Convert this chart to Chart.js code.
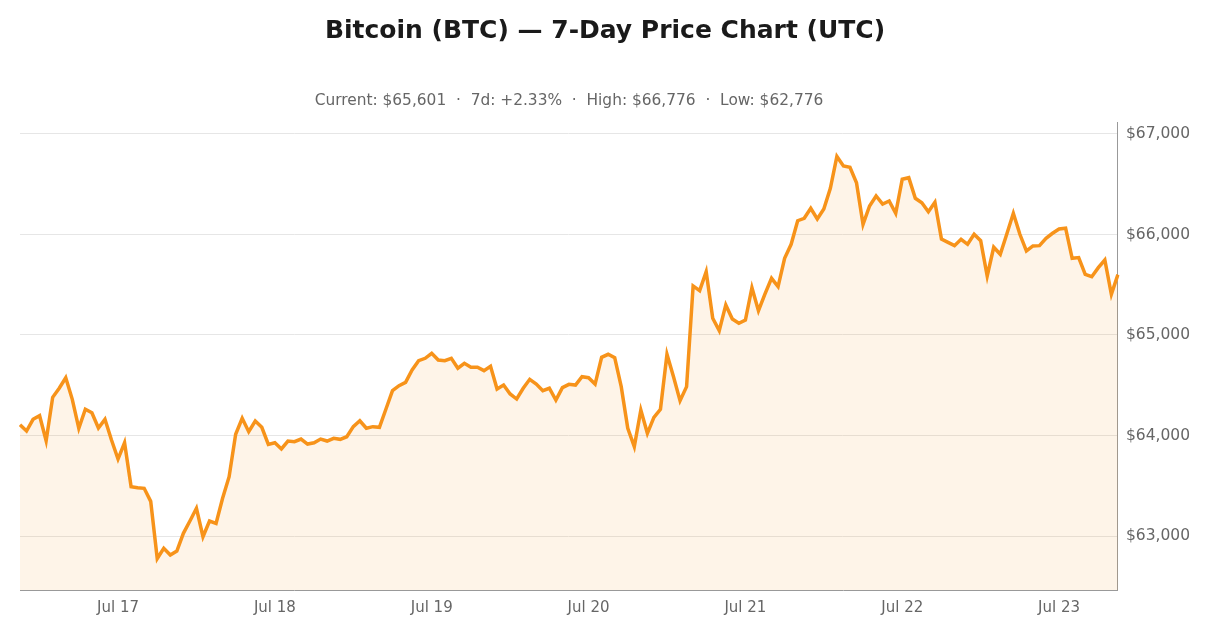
<!DOCTYPE html>
<html>
<head>
<meta charset="utf-8">
<title>Bitcoin 7-Day Price Chart</title>
<script src="https://cdn.jsdelivr.net/npm/chart.js@4"></script>
<style>
  html, body { margin: 0; padding: 0; background: #fff; }
  #wrap { width: 1210px; height: 636px; }
</style>
</head>
<body>
<div id="wrap"><canvas id="btcChart" width="1210" height="636"></canvas></div>
<script>
// hourly closes, Jul 16 09:00 -> Jul 23 09:00 UTC
const days = ['Jul 16', 'Jul 17', 'Jul 18', 'Jul 19', 'Jul 20', 'Jul 21', 'Jul 22', 'Jul 23'];
const startHour = 9;

const prices = [
  64107, 64045, 64161, 64197, 63948, 64380, 64470, 64575, 64360, 64072,
  64261, 64227, 64075, 64161, 63955, 63766, 63928, 63491, 63481, 63475,
  63345, 62776, 62878, 62811, 62851, 63027, 63149, 63276, 62993, 63149,
  63126, 63375, 63590, 64012, 64171, 64038, 64144, 64082, 63912, 63928,
  63866, 63945, 63938, 63965, 63915, 63928, 63965, 63945, 63972, 63962,
  63988, 64088, 64147, 64072, 64088, 64082, 64264, 64446, 64496, 64529,
  64652, 64744, 64768, 64818, 64751, 64744, 64768, 64669, 64718, 64679,
  64679, 64645, 64688, 64463, 64502, 64413, 64363, 64470, 64559, 64512,
  64446, 64470, 64353, 64476, 64509, 64502, 64585, 64575, 64512, 64778,
  64808, 64774, 64486, 64072, 63889, 64254, 64022, 64181, 64261, 64808,
  64585, 64346, 64486, 65488, 65441, 65630, 65166, 65043, 65299, 65159,
  65116, 65149, 65471, 65242, 65408, 65564, 65481, 65763, 65902, 66137,
  66161, 66261, 66154, 66254, 66460, 66776, 66682, 66669, 66515, 66101,
  66284, 66383, 66303, 66333, 66211, 66549, 66565, 66360, 66316, 66227,
  66320, 65955, 65922, 65889, 65952, 65902, 66002, 65938, 65587, 65873,
  65803, 66005, 66211, 66002, 65836, 65886, 65889, 65962, 66012, 66055,
  66062, 65763, 65770, 65604, 65580, 65670, 65746, 65405, 65601
];

const yTicks = [63000, 64000, 65000, 66000, 67000];
const yMin = 62463;
const yMax = 67119;

const titleText = 'Bitcoin (BTC) \u2014 7-Day Price Chart (UTC)';
const subtitleText = 'Current: $65,601  \u00b7  7d: +2.33%  \u00b7  High: $66,776  \u00b7  Low: $62,776';

// build hourly category labels
const labels = [];
for (let i = 0; i < prices.length; i++) {
  const h = startHour + i;
  const hh = String(h % 24).padStart(2, '0');
  labels.push(days[Math.floor(h / 24)] + ' ' + hh + ':00');
}

const fontFamily = '"DejaVu Sans", Verdana, sans-serif';
const money = v => '$' + v.toLocaleString('en-US');

// title centred on the page, summary line centred over the plot area
const headerPlugin = {
  id: 'header',
  afterDraw(chart) {
    const c = chart.ctx;
    const area = chart.chartArea;
    c.save();
    c.textAlign = 'center';
    c.textBaseline = 'middle';
    c.fillStyle = '#1a1a1a';
    c.font = 'bold 25px ' + fontFamily;
    c.fillText(titleText, chart.width / 2, 31);
    c.fillStyle = '#666';
    c.font = '15.4px ' + fontFamily;
    c.fillText(subtitleText, (area.left + area.right) / 2, 101);
    c.restore();
  }
};

const ctx = document.getElementById('btcChart').getContext('2d');
new Chart(ctx, {
  type: 'line',
  data: {
    labels: labels,
    datasets: [{
      label: 'BTC/USD',
      data: prices,
      borderColor: '#F7931A',
      backgroundColor: 'rgba(247, 147, 26, 0.1)',
      borderWidth: 3.5,
      pointRadius: 0,
      tension: 0,
      fill: 'start'
    }]
  },
  options: {
    responsive: false,
    animation: false,
    devicePixelRatio: 1,
    layout: { padding: { left: 20, right: 12, top: 122, bottom: 10 } },
    plugins: {
      legend: { display: false },
      tooltip: { enabled: false },
      title: { display: false },
      subtitle: { display: false }
    },
    scales: {
      x: {
        grid: { display: false, drawTicks: false },
        border: { display: true, color: '#999', width: 1 },
        ticks: {
          autoSkip: false,
          maxRotation: 0,
          padding: 9,
          color: '#666',
          font: { family: fontFamily, size: 15 },
          callback: function (value, index) {
            const l = labels[index];
            return l.endsWith(' 00:00') ? l.slice(0, 6) : null;
          }
        }
      },
      y: {
        position: 'right',
        min: yMin,
        max: yMax,
        grid: { color: '#e6e6e6', drawTicks: false },
        border: { display: true, color: '#999', width: 1 },
        afterBuildTicks: axis => { axis.ticks = yTicks.map(v => ({ value: v })); },
        ticks: {
          padding: 8,
          color: '#666',
          font: { family: fontFamily, size: 15.5 },
          callback: v => money(v)
        }
      }
    }
  },
  plugins: [headerPlugin]
});
</script>
</body>
</html>
